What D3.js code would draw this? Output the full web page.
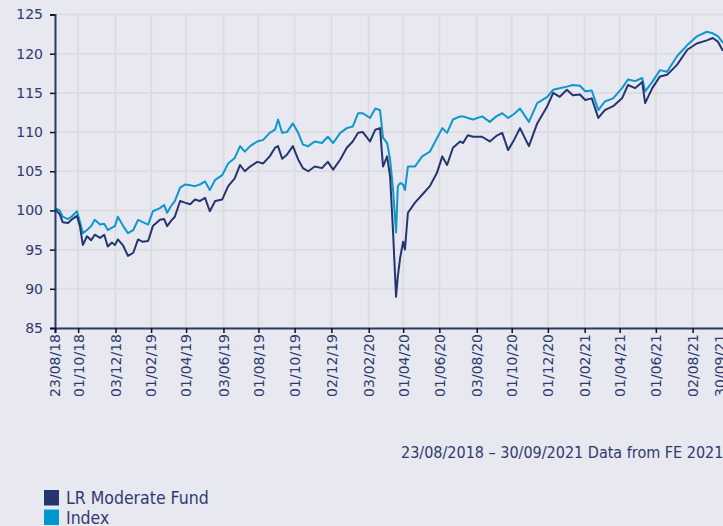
<!DOCTYPE html>
<html>
<head>
<meta charset="utf-8">
<script src="https://cdn.jsdelivr.net/npm/d3@7"></script>
<style>
  html, body { margin: 0; padding: 0; background: #e8e8f0; }
  svg { display: block; }
</style>
</head>
<body>
<script>
const dates = ["2018-08-23","2018-08-31","2018-09-05","2018-09-14","2018-09-21","2018-09-29","2018-10-04","2018-10-09","2018-10-16","2018-10-23","2018-10-29","2018-11-07","2018-11-14","2018-11-20","2018-11-27","2018-12-02","2018-12-07","2018-12-16","2018-12-24","2019-01-02","2019-01-10","2019-01-18","2019-01-27","2019-02-04","2019-02-16","2019-02-23","2019-02-28","2019-03-07","2019-03-13","2019-03-22","2019-03-30","2019-04-08","2019-04-16","2019-04-24","2019-05-03","2019-05-11","2019-05-20","2019-06-01","2019-06-11","2019-06-22","2019-07-01","2019-07-09","2019-07-18","2019-07-30","2019-08-09","2019-08-20","2019-08-29","2019-09-03","2019-09-10","2019-09-18","2019-09-28","2019-10-07","2019-10-15","2019-10-24","2019-11-04","2019-11-16","2019-11-26","2019-12-05","2019-12-17","2019-12-28","2020-01-07","2020-01-16","2020-01-24","2020-02-05","2020-02-14","2020-02-22","2020-02-27","2020-03-05","2020-03-10","2020-03-15","2020-03-20","2020-03-23","2020-03-27","2020-04-01","2020-04-04","2020-04-09","2020-04-21","2020-05-03","2020-05-16","2020-05-28","2020-06-06","2020-06-14","2020-06-24","2020-07-06","2020-07-11","2020-07-19","2020-07-28","2020-08-12","2020-08-25","2020-09-05","2020-09-15","2020-09-25","2020-10-05","2020-10-15","2020-10-30","2020-11-13","2020-11-30","2020-12-10","2020-12-21","2021-01-02","2021-01-12","2021-01-24","2021-02-02","2021-02-13","2021-02-24","2021-03-07","2021-03-21","2021-04-05","2021-04-15","2021-04-27","2021-05-09","2021-05-14","2021-05-26","2021-06-08","2021-06-20","2021-07-07","2021-07-24","2021-08-09","2021-08-26","2021-09-05","2021-09-14","2021-09-21","2021-09-30"];

const fund = [100.2,99.5,98.5,98.4,98.9,99.3,98.0,95.6,96.7,96.2,96.9,96.5,96.9,95.4,95.9,95.6,96.3,95.5,94.2,94.6,96.3,96.0,96.1,98.0,98.8,98.9,98.0,98.7,99.2,101.2,101.0,100.8,101.4,101.2,101.6,99.9,101.2,101.4,103.1,104.1,105.8,105.0,105.6,106.2,106.0,106.9,108.0,108.2,106.6,107.1,108.2,106.5,105.4,105.0,105.6,105.4,106.2,105.2,106.5,108.0,108.8,109.9,110.0,108.8,110.3,110.5,105.6,106.9,104.3,97.2,89.0,91.6,94.0,96.0,95.0,99.7,101.0,102.0,103.1,104.8,106.9,105.8,108.0,108.8,108.6,109.6,109.4,109.4,108.8,109.5,109.9,107.7,109.0,110.5,108.2,111.1,113.3,115.0,114.5,115.4,114.7,114.8,114.1,114.3,111.8,112.8,113.3,114.3,116.0,115.6,116.4,113.7,115.6,117.1,117.3,118.6,120.5,121.3,121.7,122.0,121.5,120.5,120.3];

const index = [100.3,100.0,99.2,98.9,99.3,99.9,98.6,97.1,97.5,98.0,98.8,98.2,98.3,97.5,97.8,98.0,99.2,98.0,97.1,97.5,98.8,98.5,98.2,99.9,100.3,100.7,99.7,100.6,101.2,102.9,103.3,103.2,103.1,103.3,103.7,102.6,103.9,104.5,106.0,106.7,108.2,107.5,108.2,108.8,109.0,109.9,110.3,111.6,109.9,110.0,111.1,109.9,108.4,108.2,108.8,108.6,109.4,108.6,109.9,110.5,110.7,112.4,112.4,111.8,113.0,112.8,109.3,108.6,106.5,102.6,97.2,103.1,103.5,103.3,102.6,105.6,105.6,106.9,107.5,109.2,110.5,109.9,111.6,112.0,112.0,111.8,111.6,112.0,111.3,112.0,112.4,111.8,112.3,113.0,111.3,113.7,114.5,115.4,115.6,115.8,116.0,115.9,115.2,115.3,112.8,113.9,114.3,115.6,116.7,116.5,116.9,115.2,116.4,117.9,117.7,119.7,121.1,122.2,122.8,122.6,122.2,121.5,121.3];

const xTickDates = ["2018-08-23","2018-10-01","2018-12-03","2019-02-01","2019-04-01","2019-06-03","2019-08-01","2019-10-01","2019-12-02","2020-02-03","2020-04-01","2020-06-01","2020-08-03","2020-10-01","2020-12-01","2021-02-01","2021-04-01","2021-06-01","2021-08-02","2021-09-30"];
const yTicks = [85, 90, 95, 100, 105, 110, 115, 120, 125];
const seriesNames = ["LR Moderate Fund", "Index"];
const footnote = "23/08/2018 \u2013 30/09/2021 Data from FE 2021";

const W = 723, H = 526;
const navy = "#243570", cyan = "#0e97cd", textCol = "#2e3b6e";
const parse = d3.utcParse("%Y-%m-%d");
const fmt = d3.utcFormat("%d/%m/%y");

const svg = d3.select("body").append("svg").attr("width", W).attr("height", H);
svg.append("rect").attr("width", W).attr("height", H).attr("fill", "#e8e8f0");

const x = d3.scaleUtc()
  .domain([parse("2018-08-23"), parse("2021-09-30")])
  .range([55, 727.6]);
const y = d3.scaleLinear().domain([85, 125]).range([328, 14.5]);

// grid
const grid = svg.append("g");
grid.selectAll("line.h").data(yTicks).join("line")
  .attr("x1", 55).attr("x2", W + 10)
  .attr("y1", d => y(d)).attr("y2", d => y(d))
  .attr("stroke", "#dcdce2").attr("stroke-width", 2);
grid.selectAll("line.v").data(xTickDates.map(parse)).join("line")
  .attr("x1", d => x(d)).attr("x2", d => x(d))
  .attr("y1", y(125)).attr("y2", y(85))
  .attr("stroke", "#dcdce2").attr("stroke-width", 2);

// lines
const pts = dates.map((d, i) => ({ d: parse(d), f: fund[i], idx: index[i] }));
const lineF = d3.line().x(p => x(p.d)).y(p => y(p.f));
const lineI = d3.line().x(p => x(p.d)).y(p => y(p.idx));
svg.append("path").datum(pts).attr("d", lineI).attr("fill", "none")
  .attr("stroke", cyan).attr("stroke-width", 2).attr("stroke-linejoin", "round");
svg.append("path").datum(pts).attr("d", lineF).attr("fill", "none")
  .attr("stroke", navy).attr("stroke-width", 2).attr("stroke-linejoin", "round");

// axes
const fontTick = "'DejaVu Sans', sans-serif";
const yAxis = svg.append("g").attr("transform", "translate(55,0)")
  .call(d3.axisLeft(y).tickValues(yTicks).tickSize(5).tickPadding(7));
yAxis.select(".domain").attr("stroke", "#2b3a6e").attr("stroke-width", 2);
yAxis.selectAll(".tick line").attr("stroke", "#111").attr("stroke-width", 1.5);
yAxis.selectAll(".tick text").attr("fill", textCol)
  .style("font-family", fontTick).style("font-size", "14px");

const xAxis = svg.append("g").attr("transform", "translate(0,328)")
  .call(d3.axisBottom(x).tickValues(xTickDates.map(parse)).tickFormat(fmt).tickSize(5));
xAxis.select(".domain").attr("stroke", "#2b3a6e").attr("stroke-width", 2);
xAxis.selectAll(".tick line").attr("stroke", "#111").attr("stroke-width", 1.5);
xAxis.selectAll(".tick text")
  .attr("fill", textCol)
  .style("font-family", fontTick).style("font-size", "14px")
  .attr("transform", "rotate(-90)")
  .attr("text-anchor", "end")
  .attr("x", -6).attr("y", 0).attr("dy", "0.35em");
// last label justified inside chart bounds
xAxis.selectAll(".tick text").filter((d, i, n) => i === n.length - 1).attr("y", -8);

// footnote
const condensed = "'DejaVu Sans Condensed', 'DejaVu Sans', sans-serif";
svg.append("text").attr("x", 401).attr("y", 458).text(footnote)
  .attr("fill", textCol).style("font-family", condensed).style("font-stretch", "condensed")
  .style("font-size", "16px");

// legend
const colors = [navy, "#0096cf"];
const leg = svg.append("g");
seriesNames.forEach((n, i) => {
  leg.append("rect").attr("x", 44).attr("y", 490 + i * 19.5).attr("width", 15).attr("height", 15.5)
    .attr("fill", colors[i]);
  leg.append("text").attr("x", 66).attr("y", 504 + i * 19.5).text(n)
    .attr("fill", textCol).style("font-family", condensed).style("font-stretch", "condensed")
    .style("font-size", "17.5px");
});
</script>
</body>
</html>
